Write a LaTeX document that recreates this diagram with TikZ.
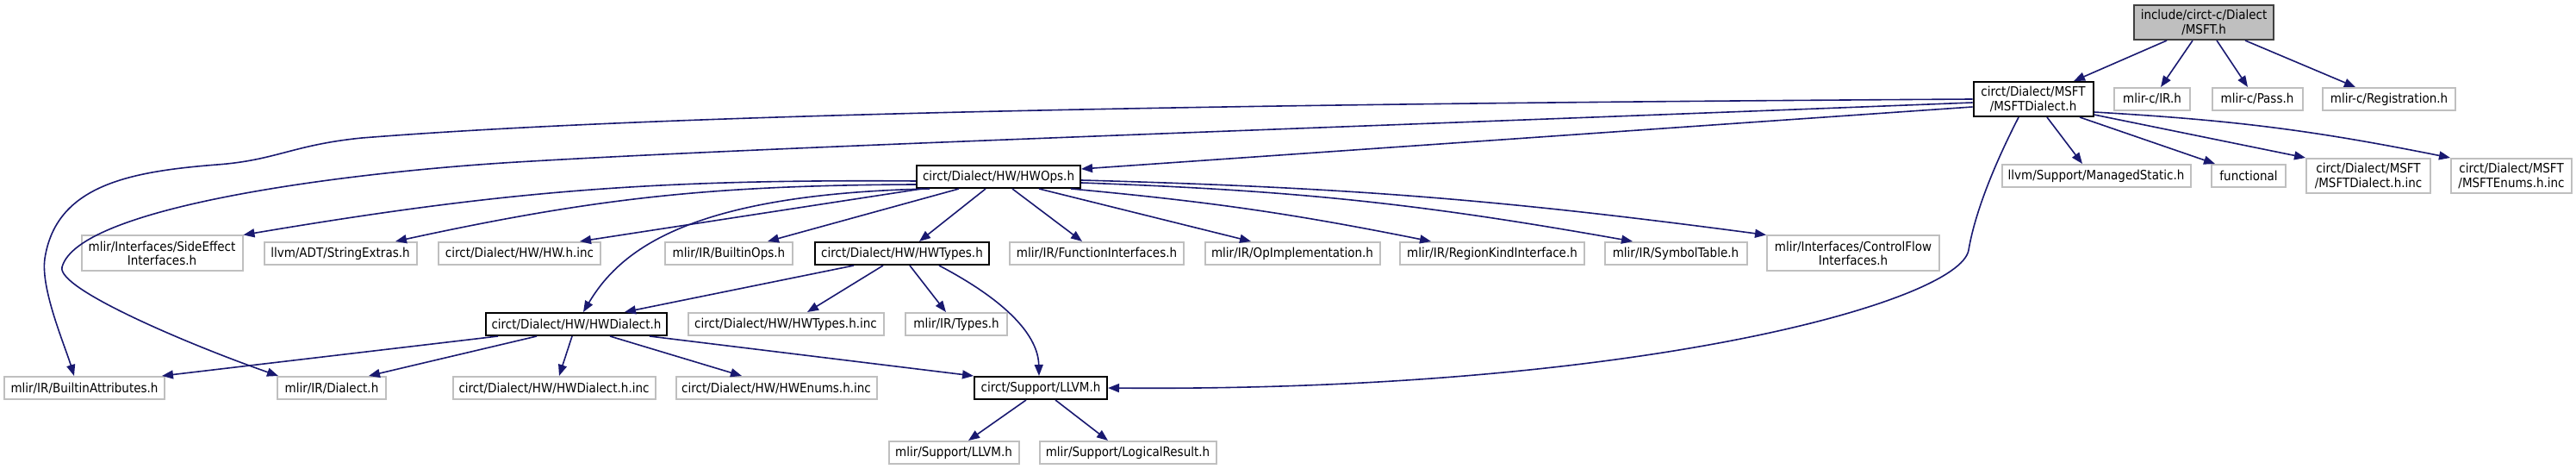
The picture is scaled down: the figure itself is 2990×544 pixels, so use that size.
\documentclass[tikz,border=0pt]{standalone}
\usepackage{fontspec}
\setmainfont{DejaVu Sans Condensed}
\usepackage{tikz}
\usetikzlibrary{arrows.meta}
\definecolor{inclblue}{HTML}{191970}
\definecolor{filegray}{HTML}{BFBFBF}
\definecolor{rootedge}{HTML}{404040}
\tikzset{
    file/.style={draw=filegray,fill=white,line width=1pt,inner sep=0pt,align=center,minimum height=13pt,font=\fontsize{7.5}{8.1}\selectfont},
    docfile/.style={file,draw=black},
    rootfile/.style={file,draw=rootedge,fill=filegray},
    incl/.style={draw=inclblue,line width=0.8pt,-{Triangle[length=6.5pt,width=5pt]}},
}
\begin{document}
\begin{tikzpicture}[x=0.5pt,y=-0.5pt]
    \useasboundingbox (0,0) rectangle (2990,544);
    \node[rootfile,minimum width=81pt,minimum height=20pt] (msft) at (2558,26) {include/circt-c/Dialect\\/MSFT.h};
    \node[docfile,minimum width=69.5pt,minimum height=20pt] (msftdialect) at (2360,115) {circt/Dialect/MSFT\\/MSFTDialect.h};
    \node[file,minimum width=44pt] (capiir) at (2498,115) {mlir-c/IR.h};
    \node[file,minimum width=52.5pt] (capipass) at (2620,115) {mlir-c/Pass.h};
    \node[file,minimum width=77pt] (capireg) at (2773,115) {mlir-c/Registration.h};
    \node[file,minimum width=109.5pt] (managed) at (2433,204) {llvm/Support/ManagedStatic.h};
    \node[file,minimum width=43pt] (functional) at (2610,204) {functional};
    \node[file,minimum width=72pt,minimum height=20pt] (msftinc) at (2749,204) {circt/Dialect/MSFT\\/MSFTDialect.h.inc};
    \node[file,minimum width=70pt,minimum height=20pt] (msftenums) at (2915,204) {circt/Dialect/MSFT\\/MSFTEnums.h.inc};
    \node[docfile,minimum width=95pt] (hwops) at (1159,205) {circt/Dialect/HW/HWOps.h};
    \node[file,minimum width=93.5pt,minimum height=20.5pt] (sideeffect) at (188,294) {mlir/Interfaces/SideEffect\\Interfaces.h};
    \node[file,minimum width=88.5pt] (strext) at (395,294) {llvm/ADT/StringExtras.h};
    \node[file,minimum width=94pt] (hwinc) at (603,294) {circt/Dialect/HW/HW.h.inc};
    \node[file,minimum width=74pt] (builtinops) at (846,294) {mlir/IR/BuiltinOps.h};
    \node[docfile,minimum width=101pt] (hwtypes) at (1047,294) {circt/Dialect/HW/HWTypes.h};
    \node[file,minimum width=101pt] (funcif) at (1273,294) {mlir/IR/FunctionInterfaces.h};
    \node[file,minimum width=101.5pt] (opimpl) at (1500,294) {mlir/IR/OpImplementation.h};
    \node[file,minimum width=107pt] (regionkind) at (1732,294) {mlir/IR/RegionKindInterface.h};
    \node[file,minimum width=82.5pt] (symtab) at (1945,294) {mlir/IR/SymbolTable.h};
    \node[file,minimum width=100pt,minimum height=20.5pt] (ctrlflow) at (2151,294) {mlir/Interfaces/ControlFlow\\Interfaces.h};
    \node[docfile,minimum width=105pt] (hwdialect) at (669,376) {circt/Dialect/HW/HWDialect.h};
    \node[file,minimum width=113.5pt] (hwtypesinc) at (912,376) {circt/Dialect/HW/HWTypes.h.inc};
    \node[file,minimum width=59pt] (irtypes) at (1110,376) {mlir/IR/Types.h};
    \node[file,minimum width=93pt] (builtinattr) at (98,450) {mlir/IR/BuiltinAttributes.h};
    \node[file,minimum width=63pt] (irdialect) at (385,450) {mlir/IR/Dialect.h};
    \node[file,minimum width=117.5pt] (hwdialectinc) at (643,450) {circt/Dialect/HW/HWDialect.h.inc};
    \node[file,minimum width=116.5pt] (hwenums) at (901,450) {circt/Dialect/HW/HWEnums.h.inc};
    \node[docfile,minimum width=77pt] (support) at (1208,450) {circt/Support/LLVM.h};
    \node[file,minimum width=75.5pt] (mlirllvm) at (1107,525) {mlir/Support/LLVM.h};
    \node[file,minimum width=102.5pt] (logical) at (1309,525) {mlir/Support/LogicalResult.h};
    \draw[incl] ([xshift=-21.5pt]msft.south) -- ([xshift=23.5pt]msftdialect.north);
    \draw[incl] ([xshift=-6.5pt]msft.south) -- ([xshift=5pt]capiir.north);
    \draw[incl] ([xshift=7.5pt]msft.south) -- ([xshift=-5.5pt]capipass.north);
    \draw[incl] ([xshift=24pt]msft.south) -- ([xshift=-19.5pt]capireg.north);
    \draw[incl] ([yshift=-4.5pt]msftdialect.west) -- ([yshift=4.5pt]hwops.east);
    \draw[incl] (msftdialect.west) .. controls (1500,120) and (800,130) .. (420,160) .. controls (340,168) and (320,186) .. (252,191) .. controls (150,199) and (65,215) .. (52,300) .. controls (47,335) and (75,400) .. ([xshift=-6pt]builtinattr.north);
    \draw[incl] ([yshift=-2pt]msftdialect.west) .. controls (1500,150) and (900,170) .. (600,188) .. controls (400,200) and (90,240) .. (72,310) .. controls (66,335) and (220,400) .. ([xshift=-31pt]irdialect.north);
    \draw[incl] ([xshift=8pt]msftdialect.south) -- ([xshift=-8pt]managed.north);
    \draw[incl] ([xshift=27pt]msftdialect.south) -- ([xshift=-19.5pt]functional.north);
    \draw[incl] ([yshift=-9pt]msftdialect.east) -- (msftinc.north west);
    \draw[incl] ([yshift=-7.5pt]msftdialect.east) to[bend left=4] (msftenums.north west);
    \draw[incl] ([xshift=-8.5pt]msftdialect.south) .. controls (2305,210) and (2290,260) .. (2285,290) .. controls (2275,350) and (1900,455) .. (support.east);
    \draw[incl] ([yshift=-2.5pt]hwops.west) to[bend right=5] (sideeffect.north east);
    \draw[incl] ([yshift=-4.5pt]hwops.west) to[bend right=6] ([xshift=32pt]strext.north);
    \draw[incl] ([xshift=3.5pt]hwops.south west) -- ([xshift=35pt]hwinc.north);
    \draw[incl] ([xshift=-40pt]hwops.south) .. controls (800,225) and (720,290) .. ([xshift=4pt]hwdialect.north);
    \draw[incl] ([xshift=-23pt]hwops.south) -- ([xshift=22.5pt]builtinops.north);
    \draw[incl] ([xshift=-7.5pt]hwops.south) -- ([xshift=10pt]hwtypes.north);
    \draw[incl] ([xshift=8pt]hwops.south) -- ([xshift=-8.5pt]funcif.north);
    \draw[incl] ([xshift=23.5pt]hwops.south) -- ([xshift=-24pt]opimpl.north);
    \draw[incl] ([xshift=-6pt]hwops.south east) to[bend left=3] ([xshift=-35.5pt]regionkind.north);
    \draw[incl] ([yshift=-3.5pt]hwops.east) to[bend left=4] ([xshift=-25pt]symtab.north);
    \draw[incl] ([yshift=-2pt]hwops.east) to[bend left=3] (ctrlflow.north west);
    \draw[incl] ([xshift=-28pt]hwtypes.south) -- ([xshift=28pt]hwdialect.north);
    \draw[incl] ([xshift=-11pt]hwtypes.south) -- ([xshift=12.5pt]hwtypesinc.north);
    \draw[incl] ([xshift=4.5pt]hwtypes.south) -- ([xshift=-6pt]irtypes.north);
    \draw[incl] ([xshift=21.5pt]hwtypes.south) .. controls (1170,350) and (1205,390) .. ([xshift=-1pt]support.north);
    \draw[incl] ([xshift=-45.5pt]hwdialect.south) -- ([xshift=-2pt]builtinattr.north east);
    \draw[incl] ([xshift=-23pt]hwdialect.south) -- ([xshift=21.5pt]irdialect.north);
    \draw[incl] ([xshift=-2.5pt]hwdialect.south) -- ([xshift=3pt]hwdialectinc.north);
    \draw[incl] ([xshift=19.5pt]hwdialect.south) -- ([xshift=-20pt]hwenums.north);
    \draw[incl] ([xshift=42.5pt]hwdialect.south) -- (support.north west);
    \draw[incl] ([xshift=-8.5pt]support.south) -- ([xshift=8.5pt]mlirllvm.north);
    \draw[incl] ([xshift=8.5pt]support.south) -- ([xshift=-11.5pt]logical.north);
\end{tikzpicture}
\end{document}
